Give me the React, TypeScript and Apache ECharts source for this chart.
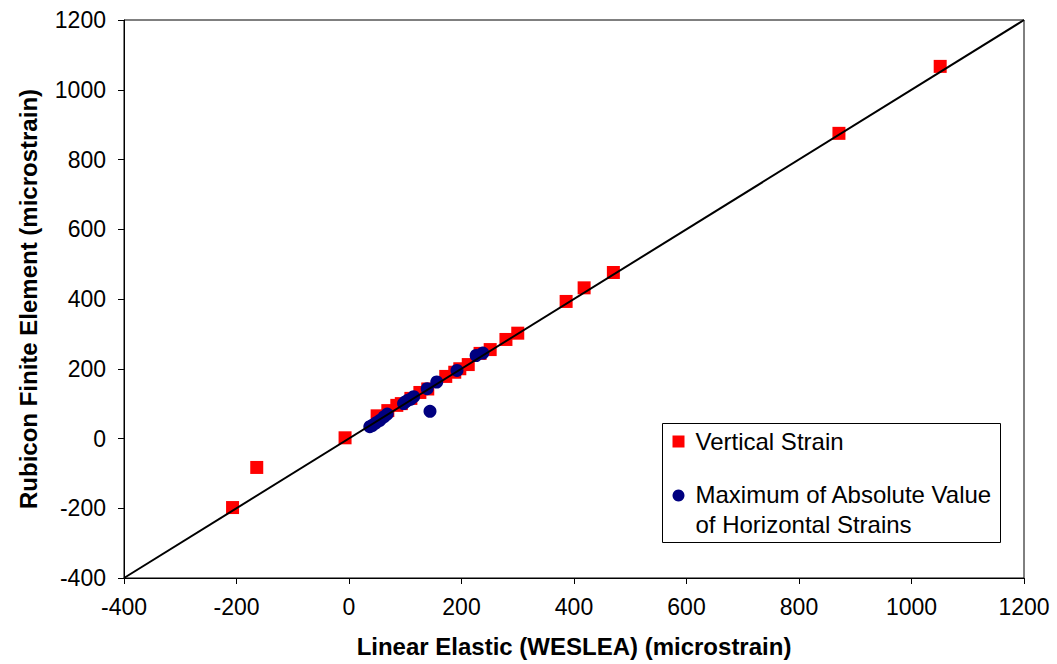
import React, { useEffect, useRef } from "react";
import * as echarts from "echarts";

const verticalStrain: [number, number][] = [
  [-207, -198], [-164, -83], [-7, 2], [50, 65], [69, 80], [85, 95], [93, 100],
  [110, 115], [126, 132], [140, 142], [172, 178], [188, 190], [197, 200],
  [212, 212], [233, 244], [251, 255], [279, 284], [300, 302], [386, 393],
  [418, 432], [470, 476], [871, 875], [1051, 1067],
];

const horizontalStrain: [number, number][] = [
  [37, 34], [42, 38], [48, 45], [55, 52], [62, 62], [68, 70], [97, 100],
  [100, 105], [105, 110], [110, 113], [115, 120], [139, 143], [156, 162],
  [192, 195], [226, 238], [238, 245], [144, 78],
];

const equalityLine: [number, number][] = [[-400, -400], [1200, 1200]];

const xTitle = "Linear Elastic (WESLEA) (microstrain)";
const yTitle = "Rubicon Finite Element (microstrain)";
const seriesNames = ["Vertical Strain", "Maximum of Absolute Value\nof Horizontal Strains"];

const FONT = "'Liberation Sans', Arial, sans-serif";

export default function App() {
  const ref = useRef<HTMLDivElement>(null);
  useEffect(() => {
    if (!ref.current) return;
    const chart = echarts.init(ref.current, undefined, { renderer: "svg" });
    chart.setOption({
      animation: false,
      backgroundColor: "#ffffff",
      grid: { left: 124, top: 20, right: 33, bottom: 86, show: true, borderColor: "#000", borderWidth: 1 },
      xAxis: {
        type: "value", min: -400, max: 1200, interval: 200,
        name: xTitle, nameLocation: "middle", nameGap: 56,
        nameTextStyle: { fontFamily: FONT, fontWeight: "bold", fontSize: 24, color: "#000" },
        axisLine: { show: true, onZero: false, lineStyle: { color: "#000", width: 1 } },
        axisTick: { show: true, inside: false, length: 6, lineStyle: { color: "#000" } },
        axisLabel: { fontFamily: FONT, fontSize: 23, color: "#000", margin: 17, formatter: (v: number) => String(v) },
        splitLine: { show: false },
      },
      yAxis: {
        type: "value", min: -400, max: 1200, interval: 200,
        name: yTitle, nameLocation: "middle", nameGap: 84, nameRotate: 90,
        nameTextStyle: { fontFamily: FONT, fontWeight: "bold", fontSize: 24, color: "#000" },
        axisLine: { show: true, onZero: false, lineStyle: { color: "#000", width: 1 } },
        axisTick: { show: true, inside: false, length: 6, lineStyle: { color: "#000" } },
        axisLabel: { fontFamily: FONT, fontSize: 23, color: "#000", margin: 18, formatter: (v: number) => String(v) },
        splitLine: { show: false },
      },
      series: [
        {
          name: seriesNames[0], type: "scatter", data: verticalStrain,
          symbol: "rect", symbolSize: 13, itemStyle: { color: "#ff0000", opacity: 1 }, z: 2,
        },
        {
          name: seriesNames[1], type: "scatter", data: horizontalStrain,
          symbol: "circle", symbolSize: 13, itemStyle: { color: "#000080", opacity: 1 }, z: 3,
        },
        {
          name: "Line of Equality", type: "line", data: equalityLine,
          symbol: "none", lineStyle: { color: "#000", width: 2 }, z: 4,
        },
      ],
      graphic: [
        {
          type: "group", left: 662, top: 423, z: 10,
          children: [
            { type: "rect", shape: { x: 0, y: 0, width: 338, height: 119 }, style: { fill: "#fff", stroke: "#000", lineWidth: 1 } },
            { type: "rect", shape: { x: 10, y: 12, width: 12, height: 12 }, style: { fill: "#ff0000" } },
            { type: "text", x: 33, y: 18, style: { text: "Vertical Strain", font: `24px ${FONT}`, fill: "#000", verticalAlign: "middle" } },
            { type: "circle", shape: { cx: 16, cy: 72, r: 6 }, style: { fill: "#000080" } },
            { type: "text", x: 33, y: 71, style: { text: "Maximum of Absolute Value", font: `24px ${FONT}`, fill: "#000", verticalAlign: "middle" } },
            { type: "text", x: 33, y: 101, style: { text: "of Horizontal Strains", font: `24px ${FONT}`, fill: "#000", verticalAlign: "middle" } },
          ],
        },
      ],
    });
    return () => chart.dispose();
  }, []);
  return <div ref={ref} style={{ position: "absolute", left: 0, top: 0, width: 1057, height: 664 }} />;
}
